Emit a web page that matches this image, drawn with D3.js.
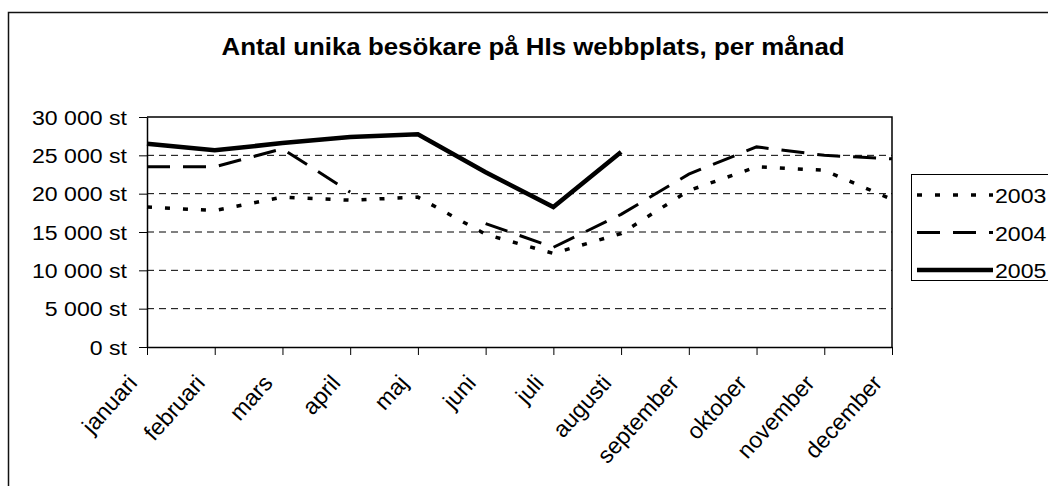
<!DOCTYPE html>
<html>
<head>
<meta charset="utf-8">
<script src="https://cdn.jsdelivr.net/npm/d3@7"></script>
<style>
    body { margin: 0; background: #fff; }
    text { font-family: Arial, "Liberation Sans", sans-serif; fill: #000; }
    .axis path, .axis line { stroke: #000; }
</style>
</head>
<body>
<svg id="chart" width="1048" height="486"></svg>
<script>
// values
var months = ["januari", "februari", "mars", "april", "maj", "juni", "juli",
    "augusti", "september", "oktober", "november", "december"];
var years = ["2003", "2004", "2005"];
var visitors2003 = [18250, 17800, 19550, 19150, 19550, 14700, 12200, 14800, 20400, 23500, 23050, 19250];
var visitors2004 = [23500, 23500, 25850, 20200, null, 16100, 13000, 17300, 22550, 26100, 25000, 24550];
var visitors2005 = [26500, 25650, 26600, 27400, 27750, 22800, 18250, 25450, null, null, null, null];
var yTicks = [0, 5000, 10000, 15000, 20000, 25000, 30000];

function visitorsChart() {
    var svg = d3.select("#chart"),
        margin = { top: 117, right: 156, bottom: 139, left: 147 },
        width = +svg.attr("width") - margin.left - margin.right,
        height = +svg.attr("height") - margin.top - margin.bottom,
        stretch = 1.1; // text in the original is a bit wide

    var x = d3.scalePoint().domain(months).range([0, width]).padding(0),
        y = d3.scaleLinear().domain([0, 30000]).range([height, 0]);

    var fmt = d => d3.format(",")(d).replace(/,/g, " ") + " st";

    // outer frame
    svg.append("rect")
        .attr("x", 8.5).attr("y", 12.5)
        .attr("width", 1100).attr("height", 600)
        .attr("fill", "none")
        .attr("stroke", "#111")
        .attr("stroke-width", 1.5);

    svg.append("text")
        .attr("transform", "translate(533,55) scale(" + stretch + ",1)")
        .attr("text-anchor", "middle")
        .style("font-size", "23.5px")
        .style("font-weight", "bold")
        .text("Antal unika besökare på HIs webbplats, per månad");

    var g = svg.append("g")
        .attr("transform", "translate(" + margin.left + "," + margin.top + ")");

    // dashed gridlines
    g.selectAll(".grid")
        .data(yTicks.filter(d => d > 0 && d < 30000))
        .enter().append("line")
        .attr("class", "grid")
        .attr("x1", 0).attr("x2", width)
        .attr("y1", d => y(d)).attr("y2", d => y(d))
        .attr("stroke", "#000")
        .attr("stroke-dasharray", "7,5");

    // plot area top and right border
    g.append("path")
        .attr("d", "M0," + y(30000) + "H" + width + "V" + height)
        .attr("fill", "none")
        .attr("stroke", "#000")
        .attr("stroke-width", 1.5);

    var yAxis = g.append("g")
        .attr("class", "axis")
        .call(d3.axisLeft(y).tickValues(yTicks).tickFormat(fmt).tickSizeInner(8).tickSizeOuter(0));
    yAxis.select(".domain").attr("stroke-width", 1.5);
    yAxis.selectAll("text")
        .attr("x", null).attr("dy", null)
        .attr("transform", "translate(-20,7) scale(" + stretch + ",1)")
        .style("font-size", "21px");

    var xAxis = g.append("g")
        .attr("class", "axis")
        .attr("transform", "translate(0," + height + ")")
        .call(d3.axisBottom(x).tickSizeInner(8).tickSizeOuter(0));
    xAxis.select(".domain").attr("stroke-width", 1.5);
    xAxis.selectAll("text")
        .attr("y", null).attr("dy", null)
        .attr("text-anchor", "end")
        .attr("transform", "translate(-9,37) rotate(-48)")
        .style("font-size", "23px");

    // series lines
    var series = [
        { name: years[0], values: visitors2003, width: 3.5, dash: "5,13" },
        { name: years[1], values: visitors2004, width: 3, dash: "23,13" },
        { name: years[2], values: visitors2005, width: 4.5, dash: null }
    ];

    var line = d3.line()
        .defined(d => d.v != null)
        .x(d => x(d.m))
        .y(d => y(d.v));

    series.forEach(s => {
        g.append("path")
            .datum(months.map((m, i) => ({ m: m, v: s.values[i] })))
            .attr("fill", "none")
            .attr("stroke", "#000")
            .attr("stroke-width", s.width)
            .attr("stroke-dasharray", s.dash)
            .attr("d", line);
    });

    // legend box runs off the right edge like the original
    var legend = svg.append("g").attr("transform", "translate(911,174)");
    legend.append("rect")
        .attr("x", 0.5).attr("y", 0.5)
        .attr("width", 200).attr("height", 106)
        .attr("fill", "#fff")
        .attr("stroke", "#000");

    series.forEach((s, i) => {
        var yy = 21 + i * 37.5;
        legend.append("line")
            .attr("x1", 6).attr("x2", 82)
            .attr("y1", yy).attr("y2", yy)
            .attr("stroke", "#000")
            .attr("stroke-width", s.width)
            .attr("stroke-dasharray", s.dash);
        legend.append("text")
            .attr("transform", "translate(84," + (yy + 8) + ") scale(" + stretch + ",1)")
            .style("font-size", "21px")
            .text(s.name);
    });
}

visitorsChart();
</script>
</body>
</html>
